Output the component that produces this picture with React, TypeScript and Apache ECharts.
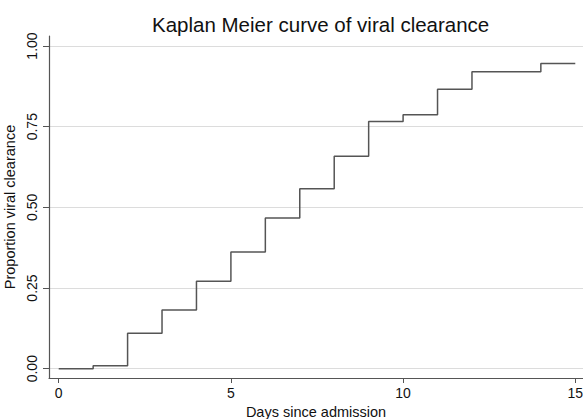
import React, { useEffect, useRef } from "react";
import * as echarts from "echarts";

const days = [0, 1, 2, 3, 4, 5, 6, 7, 8, 9, 10, 11, 12, 14, 15];
const clearance = [0, 0.009, 0.11, 0.182, 0.271, 0.362, 0.467, 0.558, 0.658, 0.766, 0.787, 0.866, 0.92, 0.946, 0.946];
const xTicks = [0, 5, 10, 15];
const yTicks = [0, 0.25, 0.5, 0.75, 1];

const FONT = "'Liberation Sans', Arial, Helvetica, sans-serif";

export default function App() {
  const ref = useRef<HTMLDivElement>(null);
  useEffect(() => {
    if (!ref.current) return;
    const chart = echarts.init(ref.current, undefined, { renderer: "svg" });
    const data = days.map((d, i) => [d, clearance[i]]);
    chart.setOption({
      animation: false,
      backgroundColor: "#ffffff",
      textStyle: { fontFamily: FONT },
      title: {
        text: "Kaplan Meier curve of viral clearance",
        left: 147,
        top: 9,
        textStyle: { fontFamily: FONT, fontSize: 20.5, fontWeight: "normal", color: "#111" },
      },
      grid: { left: 49, right: 0, top: 36, bottom: 41, containLabel: false, outerBoundsMode: "none" },
      xAxis: {
        type: "value",
        min: -0.282,
        max: 15.224,
        name: "Days since admission",
        nameLocation: "middle",
        nameGap: 25.5,
        nameTextStyle: { fontFamily: FONT, fontSize: 14.5, color: "#111" },
        axisLine: { show: true, onZero: false, lineStyle: { color: "#555", width: 1.2 } },
        axisTick: { show: true, length: 5, customValues: xTicks, lineStyle: { color: "#555" } },
        axisLabel: {
          customValues: xTicks,
          fontFamily: FONT,
          fontSize: 14,
          color: "#111",
          margin: 8,
          hideOverlap: false,
          formatter: (v: number) => String(v),
        },
        splitLine: { show: false },
      },
      yAxis: {
        type: "value",
        min: -0.0288,
        max: 1.031,
        name: "Proportion viral clearance",
        nameLocation: "middle",
        nameGap: 29,
        nameRotate: 90,
        nameTextStyle: { fontFamily: FONT, fontSize: 14.5, color: "#111" },
        axisLine: { show: true, onZero: false, lineStyle: { color: "#555", width: 1.2 } },
        axisTick: { show: true, length: 6, customValues: yTicks, lineStyle: { color: "#555" } },
        axisLabel: {
          customValues: yTicks,
          rotate: 90,
          fontFamily: FONT,
          fontSize: 14,
          color: "#111",
          margin: 10,
          formatter: (v: number) => v.toFixed(2),
        },
        splitLine: { show: true, lineStyle: { color: "#dcdcdc", width: 1 } },
      },
      series: [
        {
          type: "line",
          step: "end",
          data,
          showSymbol: false,
          symbol: "none",
          lineStyle: { color: "#555", width: 1.5 },
          silent: true,
        },
      ],
    });
    return () => chart.dispose();
  }, []);
  return (
    <div
      ref={ref}
      style={{ position: "fixed", left: 0, top: 0, width: 583, height: 419, background: "#fff" }}
    />
  );
}
